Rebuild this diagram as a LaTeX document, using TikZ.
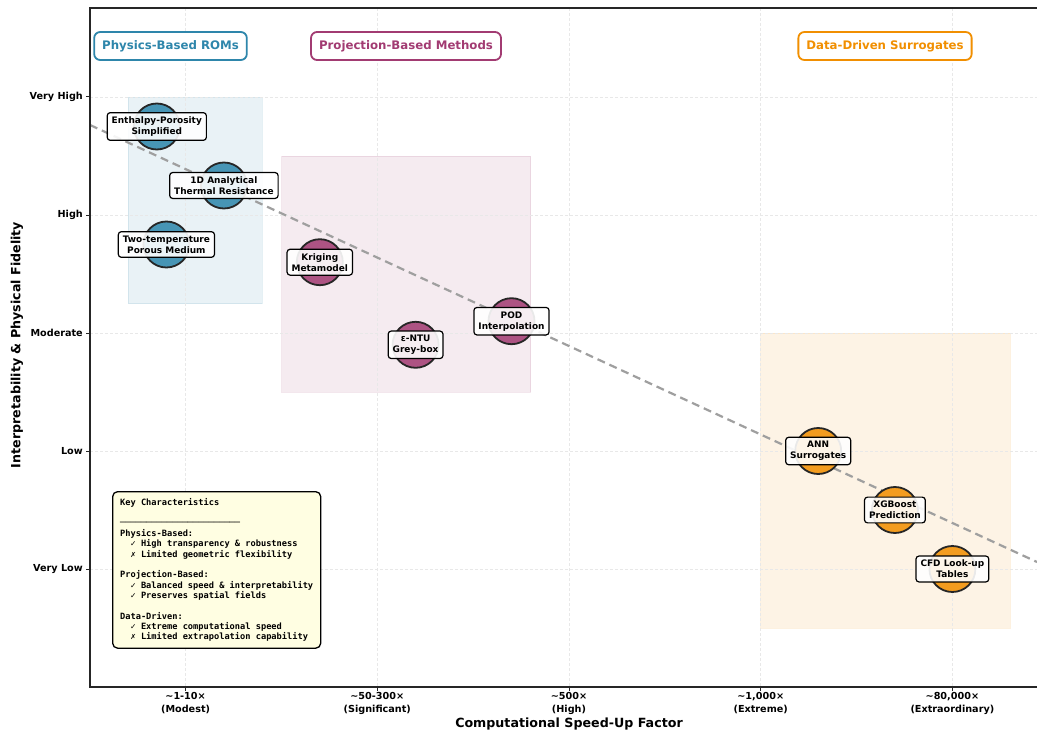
\documentclass[tikz,border=0pt]{standalone}
\usepackage{fontspec}
\setmainfont{DejaVu Sans}
\newfontfamily\keyfont{DejaVu Sans Mono}
\definecolor{physblue}{HTML}{2E86AB}
\definecolor{projpink}{HTML}{A23B72}
\definecolor{dataorange}{HTML}{F18F01}
\definecolor{keyfill}{RGB}{255,254,226}
\definecolor{edgedark}{HTML}{262626}

\begin{document}
\begin{tikzpicture}[x=1bp,y=-1bp,
  gridline/.style={gray!18, line width=0.6bp, dash pattern=on 3bp off 2bp},
  frameline/.style={black!85, line width=1.6bp},
  tickmark/.style={black!85, line width=1bp},
  ylab/.style={font=\fontsize{9.7}{12}\selectfont\bfseries, inner sep=0pt, anchor=east},
  xlab/.style={font=\fontsize{9.7}{12.6}\selectfont\bfseries, inner sep=0pt, anchor=north, align=center},
  region/.style={fill=#1, fill opacity=0.1, draw=#1, draw opacity=0.12, line width=0.8bp},
  marker/.style={circle, minimum size=46bp, inner sep=0pt, draw=edgedark, line width=1.8bp,
    fill=#1!88!white},
  ptlabel/.style={draw=black, line width=1.2bp, fill=white, fill opacity=0.9, text opacity=1,
    rounded corners=3bp, align=center, inner xsep=4.5bp, inner ysep=4bp,
    font=\fontsize{9}{11}\selectfont\bfseries},
  catlabel/.style={draw=#1, text=#1, fill=white, line width=1.8bp, rounded corners=6bp,
    inner xsep=8bp, inner ysep=0pt, minimum height=28bp,
    font=\fontsize{11.8}{14}\selectfont\bfseries},
  keybox/.style={draw=black, line width=1.3bp, fill=keyfill, rounded corners=5bp,
    align=left, inner xsep=7.5bp, inner ysep=6.5bp,
    font=\fontsize{8.7}{10.4}\selectfont\keyfont\bfseries},
  trend/.style={gray!75, line width=2.2bp, dash pattern=on 8bp off 5bp},
  axislab/.style={font=\fontsize{12.7}{15}\selectfont\bfseries, inner sep=0pt},
]
\useasboundingbox (0,0) rectangle (1037,734);
\fill[white] (0,0) rectangle (1037,734);

% category regions
\path[region=physblue] (128.1,97) rectangle (262.3,303.5);
\path[region=projpink] (281.5,156) rectangle (530.7,392);
\path[region=dataorange] (760.7,333) rectangle (1009.9,628);

% grid
\foreach \gx in {185.6,377.3,569,760.7,952.4}
  \draw[gridline] (\gx,8) -- (\gx,687);
\foreach \gy in {97,215,333,451,569}
  \draw[gridline] (90,\gy) -- (1037,\gy);

% trade-off trend
\coordinate (trendA) at (90,125);
\coordinate (trendB) at (1037,562);
\draw[trend] (trendA) -- (trendB);

% methods
\node[marker=physblue] (m1) at (156.8,126.5) {};
\node[marker=physblue] (m2) at (223.9,185.5) {};
\node[marker=physblue] (m3) at (166.4,244.5) {};
\node[marker=projpink] (m4) at (319.8,262.2) {};
\node[marker=projpink] (m5) at (415.6,344.8) {};
\node[marker=projpink] (m6) at (511.5,321.2) {};
\node[marker=dataorange] (m7) at (818.2,451) {};
\node[marker=dataorange] (m8) at (894.9,510) {};
\node[marker=dataorange] (m9) at (952.4,569) {};

\node[ptlabel] (l1) at (m1) {Enthalpy-Porosity\\Simplified};
\node[ptlabel] (l2) at (m2) {1D Analytical\\Thermal Resistance};
\node[ptlabel] (l3) at (m3) {Two-temperature\\Porous Medium};
\node[ptlabel] (l4) at (m4) {Kriging\\Metamodel};
\node[ptlabel] (l5) at (m5) {ε-NTU\\Grey-box};
\node[ptlabel] (l6) at (m6) {POD\\Interpolation};
\node[ptlabel] (l7) at (m7) {ANN\\Surrogates};
\node[ptlabel] (l8) at (m8) {XGBoost\\Prediction};
\node[ptlabel] (l9) at (m9) {CFD Look-up\\Tables};

% category headings
\node[catlabel=physblue] (c1) at (170.5,46) {Physics-Based ROMs};
\node[catlabel=projpink] (c2) at (406,46) {Projection-Based Methods};
\node[catlabel=dataorange] (c3) at (885,46) {Data-Driven Surrogates};

% summary box
\node[keybox, anchor=north west] (key) at (112,491) {Key Characteristics\\
\mbox{}\\
───────────────────────\\
Physics-Based:\\
\ \ ✓ High transparency \& robustness\\
\ \ ✗ Limited geometric flexibility\\
\mbox{}\\
Projection-Based:\\
\ \ ✓ Balanced speed \& interpretability\\
\ \ ✓ Preserves spatial fields\\
\mbox{}\\
Data-Driven:\\
\ \ ✓ Extreme computational speed\\
\ \ ✗ Limited extrapolation capability};

% axes frame
\draw[frameline] (1037,8) -- (90,8) -- (90,687) -- (1037,687);

% y ticks
\foreach \gy/\txt in {97/Very High,215/High,333/Moderate,451/Low,569/Very Low}{
  \draw[tickmark] (86,\gy) -- (90,\gy);
  \node[ylab] at (83,\gy) {\txt};
}
% x ticks
\foreach \gx in {185.6,377.3,569,760.7,952.4}
  \draw[tickmark] (\gx,687) -- (\gx,691);
\node[xlab] (x1) at (185.6,692.5) {\textasciitilde1-10×\\(Modest)};
\node[xlab] (x2) at (377.3,692.5) {\textasciitilde50-300×\\(Significant)};
\node[xlab] (x3) at (569,692.5) {\textasciitilde500×\\(High)};
\node[xlab] (x4) at (760.7,692.5) {\textasciitilde1,000×\\(Extreme)};
\node[xlab] (x5) at (952.4,692.5) {\textasciitilde80,000×\\(Extraordinary)};

% axis titles
\node[axislab] (xt) at (569,724) {Computational Speed-Up Factor};
\node[axislab, rotate=90] (yt) at (17,345) {Interpretability \& Physical Fidelity};
\end{tikzpicture}
\end{document}
